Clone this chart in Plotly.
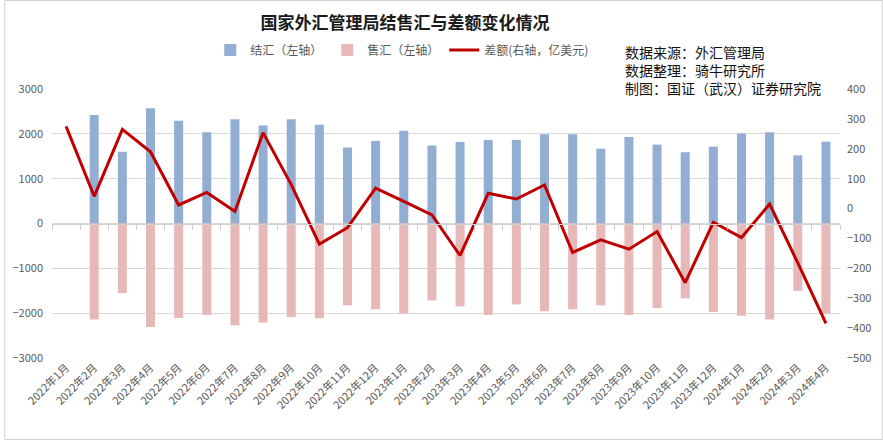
import plotly.graph_objects as go

months = ["2022年1月","2022年2月","2022年3月","2022年4月","2022年5月","2022年6月","2022年7月",
          "2022年8月","2022年9月","2022年10月","2022年11月","2022年12月",
          "2023年1月","2023年2月","2023年3月","2023年4月","2023年5月","2023年6月","2023年7月",
          "2023年8月","2023年9月","2023年10月","2023年11月","2023年12月",
          "2024年1月","2024年2月","2024年3月","2024年4月"]

settle = [None, 2420, 1600, 2570, 2290, 2035, 2325, 2185, 2325, 2205, 1695, 1840,
          2070, 1740, 1820, 1865, 1865, 1990, 1990, 1670, 1930, 1760, 1590, 1715,
          2010, 2035, 1520, 1825]

sale = [None, -2140, -1550, -2310, -2110, -2040, -2270, -2210, -2085, -2115, -1825, -1910,
        -2010, -1715, -1850, -2040, -1805, -1960, -1910, -1825, -2040, -1885, -1670, -1975,
        -2055, -2140, -1505, -2005]

diff = [275, 41, 265, 190, 12, 54, -10, 254, 80, -119, -64, 68,
        24, -21, -157, 51, 32, 79, -147, -105, -136, -77, -248, -46,
        -97, 15, -182, -384]

left_ticks = [-3000, -2000, -1000, 0, 1000, 2000, 3000]
right_ticks = [-500, -400, -300, -200, -100, 0, 100, 200, 300, 400]

FONT = "Noto Sans CJK SC"
GREY = "#595959"

fig = go.Figure()
fig.add_trace(go.Bar(x=months, y=settle, name="结汇（左轴）",
                     marker=dict(color="#93AED3", line=dict(width=0)), width=0.32))
fig.add_trace(go.Bar(x=months, y=sale, name="售汇（左轴）",
                     marker=dict(color="#E6B8B8", line=dict(width=0)), width=0.32))
fig.add_trace(go.Scatter(x=months, y=diff, name="差额(右轴，亿美元)", yaxis="y2",
                         mode="lines", line=dict(color="#C00000", width=3)))
# invisible trace carrying the zero-line category axis
fig.add_trace(go.Scatter(x=months, y=[None]*len(months), xaxis="x2", showlegend=False,
                         hoverinfo="skip", mode="lines"))

fig.update_layout(
    width=883, height=440,
    margin=dict(l=48, r=43, t=89, b=82),
    paper_bgcolor="white", plot_bgcolor="white",
    barmode="relative",
    font=dict(family=FONT, color=GREY, size=11),
    title=dict(text="<b>国家外汇管理局结售汇与差额变化情况</b>", x=405/883, xanchor="center",
               y=1-23/440, yanchor="middle",
               font=dict(family=FONT, size=17, color="#1a1a1a")),
    legend=dict(orientation="h", x=(400-48)/792, xanchor="center", y=(358-50)/269,
                yanchor="middle", font=dict(size=12, color=GREY), bgcolor="rgba(0,0,0,0)",
                itemwidth=30, tracegroupgap=0),
    xaxis=dict(type="category", categoryorder="array", categoryarray=months,
               range=[-0.5, len(months)-0.5], tickangle=-45, showgrid=False,
               ticks="", showline=False, tickfont=dict(size=11, color=GREY)),
    xaxis2=dict(type="category", categoryorder="array", categoryarray=months,
                range=[-0.5, len(months)-0.5], overlaying="x", anchor="free", position=0.5,
                showticklabels=False, ticks="outside", tickson="boundaries", ticklen=5,
                tickcolor="#D0D0D0", showline=True, linecolor="#D0D0D0", showgrid=False),
    yaxis=dict(range=[-3000, 3000], tickvals=left_ticks, showgrid=True, gridcolor="#D9D9D9",
               zeroline=False, tickfont=dict(size=11, color=GREY), ticks="", ticklabelstandoff=8),
    yaxis2=dict(range=[-500, 400], tickvals=right_ticks, overlaying="y", side="right",
                showgrid=False, zeroline=False, tickfont=dict(size=11, color=GREY),
                ticklabelstandoff=6),
    showlegend=True,
)

notes = ["数据来源：外汇管理局", "数据整理：骑牛研究所", "制图：国证（武汉）证券研究院"]
fig.add_annotation(text="<br>".join(notes), xref="paper", yref="paper", x=(622-48)/792,
                   xanchor="left", align="left", y=(358-70)/269, yanchor="middle",
                   showarrow=False, font=dict(family=FONT, size=14, color="#111111"))

fig.add_shape(type="rect", xref="paper", yref="paper",
              x0=-47.5/792, x1=(882.5-48)/792, y0=-81.5/269, y1=(358-0.5)/269,
              line=dict(color="#D0D0D0", width=1))

fig.write_html("out.html")
